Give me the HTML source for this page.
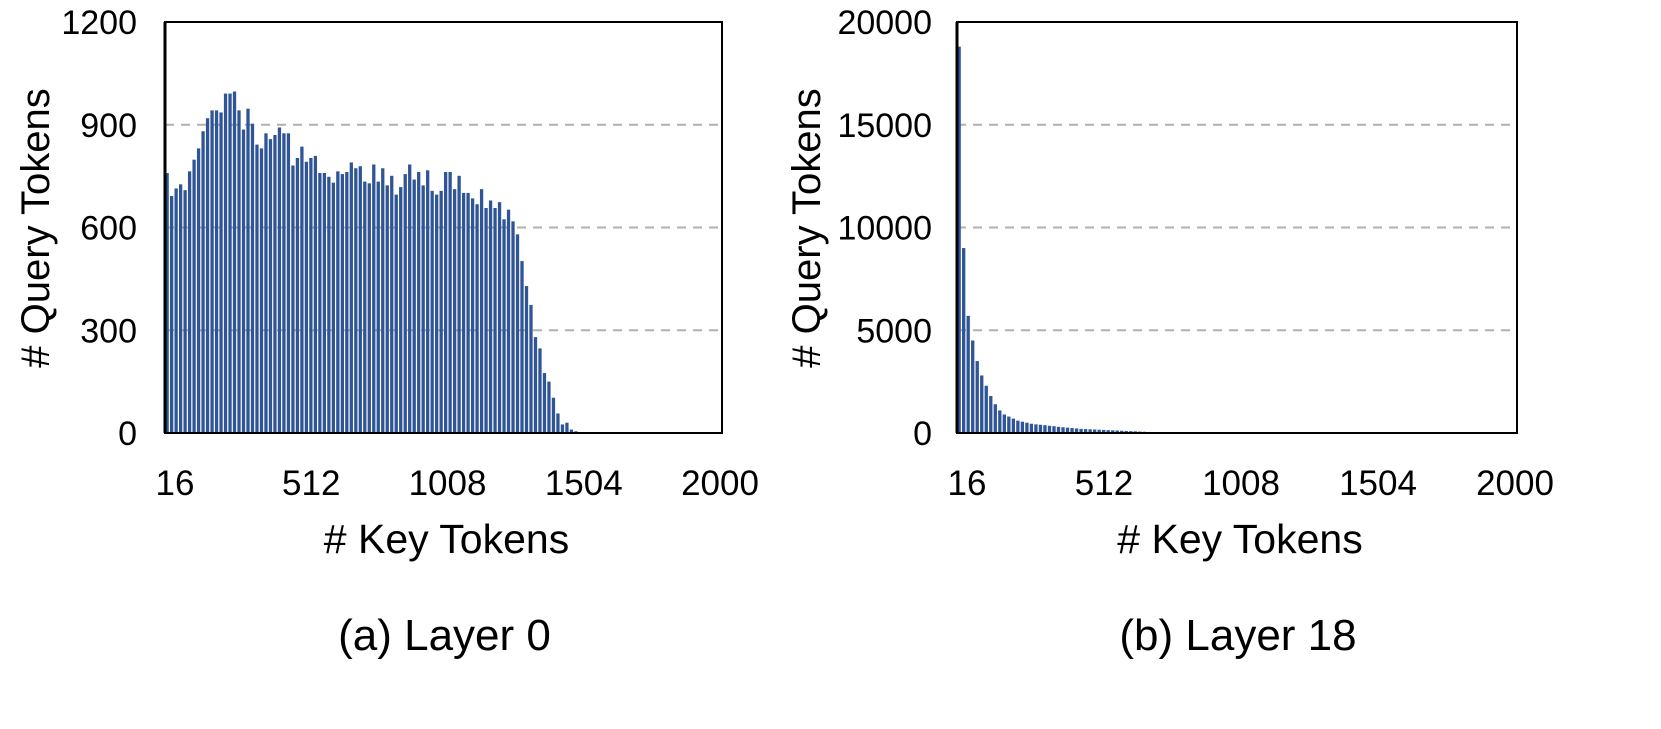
<!DOCTYPE html>
<html><head><meta charset="utf-8">
<style>
body{margin:0;background:#fff;width:1661px;height:724px;overflow:hidden;font-family:"Liberation Sans",Arial,sans-serif;}
svg text{font-family:"Liberation Sans",Arial,sans-serif;fill:#000;}
</style></head>
<body>
<svg id="chart" width="1661" height="724" viewBox="0 0 1661 724"></svg>
<script>
const binStart = 16, binSize = 16, binCount = 124;
const layer0Values = [759,692,714,726,709,764,798,831,881,919,942,942,936,991,991,997,942,886,947,903,842,831,875,858,870,892,875,875,781,803,836,792,803,809,759,759,748,731,764,
 756,762,790,773,779,734,729,784,734,773,723,751,696,718,756,784,740,762,723,767,707,696,707,762,762,712,751,701,701,685,668,712,657,679,657,674,624,652,618,580,502,429,374,280,247,175,150,103,57,25,30,10,5];
const layer18Values = [18800,9000,5700,4500,3500,2800,2300,1800,1400,1100,900,800,700,600,550,500,450,420,400,380,350,330,300,280,260,240,220,200,190,180,170,160,150,140,130,120,110,100,90,80,70,60,50,40,
 30,30,25,25,20,20,20,15,15,15,10,10,10,10,8,8,6,6,5,5,4,4,3,3,2,2];
const layer0Ticks = [0,300,600,900,1200];
const layer18Ticks = [0,5000,10000,15000,20000];
const xTickLabels = [16,512,1008,1504,2000];

const NS="http://www.w3.org/2000/svg";
const svg=document.getElementById('chart');
function mk(tag,attrs,parent){const e=document.createElementNS(NS,tag);for(const k in attrs)e.setAttribute(k,attrs[k]);(parent||svg).appendChild(e);return e;}

function drawPanel(cfg){
  const g=mk('g',{});
  
  
  const L=cfg.left,R=cfg.right,T=22,B=433;
  const yMax=cfg.ticks[cfg.ticks.length-1];
  const y=v=>B-(v/yMax)*(B-T);
  const x=t=>L+(t-binStart)/(2000-binStart)*(R-L);
  cfg.ticks.forEach((t,i)=>{
    if(i>0&&i<cfg.ticks.length-1){
      const gl=mk('line',{x1:L,x2:R,y1:y(t),y2:y(t),stroke:'#b0b0b0','stroke-width':2,'stroke-dasharray':'9,7'},g);
      
      
    }
    const tl=mk('text',{x:L-cfg.tickGap,y:y(t)+12,'text-anchor':'end','font-size':34},g);
    tl.textContent=t;
    
    
  });
  const pitch=(R-L)/binCount;
  cfg.values.forEach((v,i)=>{
    if(v<=0)return;
    const bx=x(binStart+i*binSize);
    const r=mk('rect',{x:bx+0.5,y:y(v),width:Math.max(pitch-1.2,1),height:B-y(v),fill:'#2f5597'},g);
    
    
  });
  const box=mk('rect',{x:L,y:T,width:R-L,height:B-T,fill:'none',stroke:'#000','stroke-width':2},g);
  
  
  mk('line',{x1:L,x2:L,y1:T,y2:B,stroke:'#000','stroke-width':3},g);
  xTickLabels.forEach(t=>{
    const tx=mk('text',{x:L+10+(t-binStart)/(2000-binStart)*(R-L-12),y:495,'text-anchor':'middle','font-size':35},g);
    tx.textContent=t;
    
    
  });
  const xt=mk('text',{x:(L+R)/2+3,y:553,'text-anchor':'middle','font-size':41},g);
  xt.textContent='# Key Tokens';
  
  
  const yt=mk('text',{x:0,y:0,'text-anchor':'middle','font-size':40,transform:`translate(${cfg.ytx},228) rotate(-90)`},g);
  yt.textContent='# Query Tokens';
  
  
  const cap=mk('text',{x:(L+R)/2+1,y:650,'text-anchor':'middle','font-size':44},g);
  cap.textContent=cfg.caption;
  
  
}
drawPanel({name:'layer0-panel',left:165,right:722,ticks:layer0Ticks,values:layer0Values,ytx:49,tickGap:28,caption:'(a) Layer 0'});
drawPanel({name:'layer18-panel',left:957,right:1517,ticks:layer18Ticks,values:layer18Values,ytx:820,tickGap:25,caption:'(b) Layer 18'});
</script>
</body></html>
